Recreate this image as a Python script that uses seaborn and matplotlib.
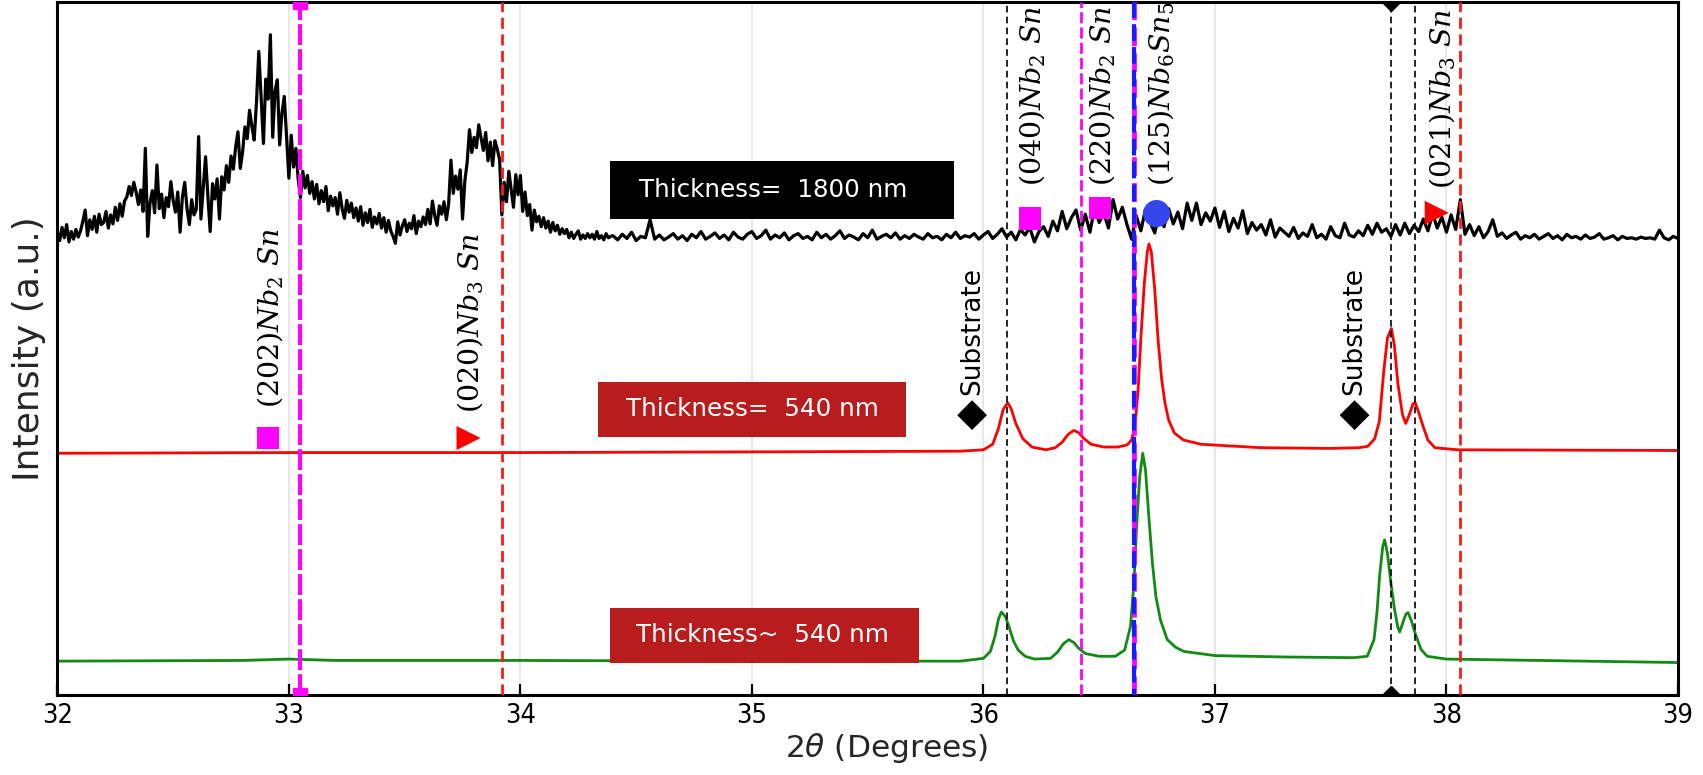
import numpy as np
import pandas as pd
import matplotlib
matplotlib.use("Agg")
import matplotlib.pyplot as plt
import seaborn as sns
from matplotlib.patches import Rectangle

# ---------------- data ----------------
# black trace (1800 nm), stacked intensity, fine scan part 32.00-34.39 (0.01 step)
black_y_fine = [
    66.8, 65.6, 67.5, 66.0, 67.9, 65.4, 66.9, 65.8, 67.2, 66.1,
    67.0, 68.4, 70.0, 66.3, 68.6, 67.2, 69.1, 66.8, 69.4, 67.9,
    68.2, 69.8, 67.4, 69.3, 68.0, 70.4, 68.5, 70.9, 69.1, 71.3,
    71.9, 73.4, 72.1, 74.0, 72.6, 70.8, 72.9, 69.8, 78.9, 66.2,
    71.0, 72.8, 69.6, 76.5, 70.2, 72.3, 68.9, 71.8, 70.5, 74.1,
    71.4, 69.7, 72.6, 66.8, 71.9, 74.0, 70.2, 67.9, 71.5, 69.3,
    70.1, 80.6, 68.7, 73.2, 77.7, 72.0, 66.9, 73.8, 71.6, 74.5,
    68.7, 74.8, 72.9, 76.4, 74.0, 77.8, 75.9, 79.1, 81.3, 76.0,
    78.4, 82.0, 80.3, 84.4, 82.1, 80.1, 85.6, 92.9, 86.2, 79.6,
    88.9, 86.0, 95.3, 80.5, 87.2, 88.8, 79.4, 84.0, 86.4, 80.6,
    74.6, 80.8, 76.2, 78.9, 74.5, 71.8, 75.6, 73.2, 75.0, 72.4,
    74.1, 71.6, 73.7, 70.9, 72.8, 71.2, 73.4, 69.9, 72.0, 70.6,
    71.8, 69.4, 72.5, 70.2, 68.8, 71.4, 69.7, 71.0, 68.9, 70.3,
    68.4, 70.5, 67.8, 69.6, 68.2, 70.1, 67.5, 69.0, 68.0, 69.5,
    67.4, 68.9, 66.8, 68.5, 67.0, 66.2, 65.2, 68.3, 66.4, 67.7,
    68.6, 66.9, 68.1, 67.3, 69.2, 66.6, 68.4, 67.6, 69.0, 67.9,
    70.1, 68.0, 71.3, 69.2, 67.8, 70.6, 69.4, 71.2, 68.6, 70.9,
    77.2, 72.4, 74.9, 73.0, 75.8, 68.7, 74.2, 76.9, 81.6, 78.3,
    80.5, 79.0, 82.3, 80.4, 78.6, 81.2, 77.1, 79.8, 76.4, 80.0,
    78.8, 77.3, 69.3, 74.0, 71.2, 75.6, 73.0, 70.4, 75.1, 72.2,
    75.0, 69.8, 72.6, 69.2, 70.8, 67.1, 70.0, 68.3, 69.1, 67.6,
    68.9, 67.4, 68.4, 66.8, 68.2, 67.0, 67.8, 66.5, 67.3, 66.6,
    67.2, 66.0, 66.8, 65.9, 66.5, 67.0, 65.8, 66.4, 65.9, 66.6,
    66.0, 66.5, 65.8, 66.9, 65.9, 66.3, 65.7, 66.6, 66.0, 66.2,
]
# coarse scan part 34.40-39.00 (0.02 step)
black_y_coarse = [
    66.3, 65.7, 66.5, 65.9, 66.8, 65.6, 66.2, 66.0, 68.6, 65.8,
    66.4, 65.7, 66.1, 66.6, 65.8, 66.3, 65.6, 66.5, 66.0, 66.9,
    65.8, 66.2, 66.7, 65.9, 66.4, 65.7, 66.8, 66.1, 65.8, 66.5,
    66.9, 65.9, 66.3, 67.1, 65.8, 66.4, 66.0, 66.7, 65.7, 66.3,
    66.6, 65.9, 66.2, 65.7, 66.8, 66.0, 66.5, 65.8, 66.3, 67.0,
    65.9, 66.4, 66.1, 65.7, 66.6, 66.0, 67.1, 65.8, 66.2, 66.5,
    66.0, 66.7, 65.8, 66.3, 65.9, 66.5, 66.1, 65.8, 66.6, 66.0,
    66.2, 65.7, 66.5, 66.0, 66.8, 65.9, 66.3, 66.1, 66.6, 65.8,
    66.4, 66.9, 65.9, 66.5, 67.3, 66.1, 66.8, 65.7, 67.2, 66.4,
    67.5, 65.4, 66.9, 67.6, 66.2, 68.4, 67.0, 69.8, 67.3, 68.9,
    70.0, 67.1, 69.4, 66.8, 70.3, 68.2, 69.6, 67.4, 71.5, 68.7,
    70.4, 67.9, 65.8, 69.2, 67.0, 70.1, 68.3, 66.7, 69.5, 67.6,
    70.2, 68.0, 69.7, 67.3, 71.0, 68.5, 71.0, 67.9, 69.6, 68.4,
    70.3, 67.5, 69.8, 66.9, 68.8, 67.4, 69.9, 66.6, 68.2, 67.1,
    67.9, 66.4, 68.6, 66.1, 67.4, 66.8, 66.2, 67.5, 65.9, 66.7,
    66.2, 67.9, 66.0, 66.5, 65.8, 67.6, 66.3, 66.0, 68.1, 66.4,
    66.1, 67.0, 66.3, 67.8, 66.5, 68.1, 66.8, 67.3, 66.2, 67.9,
    66.4, 68.1, 66.6, 67.8, 66.9, 68.7, 67.0, 69.5, 67.4, 69.0,
    66.8, 69.3, 67.2, 71.5, 66.5, 67.9, 66.3, 67.6, 66.0, 66.9,
    68.6, 66.2, 66.7, 65.9, 66.4, 66.8, 65.8, 66.3, 66.0, 66.5,
    65.8, 66.2, 66.6, 65.9, 66.3, 65.7, 66.5, 66.0, 66.2, 65.8,
    66.4, 65.9, 66.1, 66.6, 65.8, 66.0, 66.3, 65.7, 66.2, 65.9,
    66.0, 65.8, 66.1, 65.9, 66.0, 65.8, 67.1, 66.0, 65.7, 66.2,
    65.9,
]

# red trace (540 nm), stacked intensity
red_x = [32.0, 33.0, 34.0, 35.0, 35.9, 36.0, 36.04, 36.065, 36.085, 36.105,
         36.12, 36.14, 36.17, 36.21, 36.27, 36.31, 36.34, 36.365, 36.39, 36.41,
         36.435, 36.465, 36.52, 36.58, 36.62, 36.64, 36.655, 36.668, 36.68, 36.695,
         36.708, 36.715, 36.725, 36.74, 36.755, 36.77, 36.785, 36.80, 36.825, 36.865,
         36.94, 37.2, 37.5, 37.62, 37.66, 37.69, 37.71, 37.73, 37.745, 37.762,
         37.775, 37.79, 37.81, 37.824, 37.84, 37.855, 37.865, 37.88, 37.90, 37.92,
         37.95, 38.05, 39.0]
red_y = [34.9, 35.0, 35.0, 35.1, 35.2, 35.4, 36.2, 38.5, 41.2, 42.2,
         41.3, 39.2, 37.0, 35.8, 35.4, 35.7, 36.5, 37.6, 38.2, 37.9,
         37.0, 36.2, 35.8, 35.8, 36.1, 36.8, 39.0, 44.0, 51.5, 59.5,
         64.0, 65.1, 64.0, 58.5, 51.0, 45.5, 42.0, 39.7, 37.8, 36.8,
         36.2, 35.7, 35.6, 35.7, 35.9, 37.0, 39.5, 47.0, 51.5, 52.9,
         50.5, 45.0, 40.5, 39.2, 40.5, 42.0, 42.2, 40.8, 38.7, 36.8,
         35.7, 35.4, 35.3]

# green trace (~540 nm), stacked intensity
green_x = [32.0, 32.8, 33.0, 33.2, 34.0, 35.0, 35.9, 36.0, 36.03, 36.05,
           36.065, 36.078, 36.095, 36.11, 36.13, 36.15, 36.18, 36.22, 36.29, 36.32,
           36.345, 36.369, 36.39, 36.41, 36.44, 36.5, 36.57, 36.61, 36.635, 36.65,
           36.662, 36.675, 36.688, 36.70, 36.715, 36.73, 36.745, 36.765, 36.794, 36.83,
           36.866, 37.0, 37.3, 37.6, 37.658, 37.687, 37.70, 37.712, 37.725, 37.733,
           37.745, 37.76, 37.775, 37.79, 37.798, 37.812, 37.825, 37.834, 37.848, 37.865,
           37.89, 37.917, 38.0, 39.0]
green_y = [4.9, 5.0, 5.2, 5.0, 5.0, 4.9, 4.9, 5.3, 6.3, 8.5,
           11.0, 12.0, 11.3, 9.9, 7.8, 6.5, 5.6, 5.2, 5.3, 6.2,
           7.4, 8.0, 7.6, 6.8, 6.0, 5.6, 5.6, 6.5, 9.9, 16.0,
           24.5, 31.5, 34.9, 32.5, 25.5, 19.0, 14.2, 10.8, 8.0, 6.9,
           6.3, 5.7, 5.5, 5.4, 5.6, 8.0, 12.0, 17.5, 21.5, 22.4,
           20.5, 16.2, 12.5, 9.8, 9.1, 10.5, 11.7, 11.9, 10.8, 8.9,
           6.6, 5.6, 5.2, 4.7]

# reference peak positions (2theta)
nb2sn_202 = 33.05
nb3sn_020 = 33.92
substrate_1 = 36.10
nb2sn_220 = 36.42
nb6sn5_125 = 36.65
substrate_2 = 37.76
substrate_3 = 37.865
nb3sn_021 = 38.06

# phase markers (x, y)
mag_sq_x = [32.91, 36.20, 36.503]
mag_sq_y = [37.1, 68.8, 70.3]
red_tri_x = [33.776, 37.958]
red_tri_y = [37.1, 69.6]
blue_dot_x = [36.748]
blue_dot_y = [69.5]
sub_x = [35.951, 37.603]
sub_y = [40.4, 40.4]

phase_labels = [r"$(202)Nb_2\ Sn$", r"$(020)Nb_3\ Sn$", r"$(040)Nb_2\ Sn$",
                r"$(220)Nb_2\ Sn$", r"$(125)Nb_6Sn_5$", r"$(021)Nb_3\ Sn$"]
phase_label_x = [32.919, 33.783, 36.21, 36.513, 36.765, 37.982]
phase_label_y = [41.4, 40.7, 73.5, 73.4, 73.4, 73.1]

sample_labels = ["Thickness=  1800 nm", "Thickness=  540 nm", "Thickness~  540 nm"]
xticks = [32, 33, 34, 35, 36, 37, 38, 39]

# ---------------- build frames ----------------
x_fine = np.round(32.0 + 0.01 * np.arange(len(black_y_fine)), 2)
x_coarse = np.round(34.40 + 0.02 * np.arange(len(black_y_coarse)), 2)
black = pd.DataFrame({"x": np.concatenate([x_fine, x_coarse]),
                      "y": black_y_fine + black_y_coarse})
red = pd.DataFrame({"x": red_x, "y": red_y})
green = pd.DataFrame({"x": green_x, "y": green_y})

# ---------------- plot ----------------
sns.set_theme(style="white")
plt.rcParams["font.family"] = ["DejaVu Sans"]

fig = plt.figure(figsize=(17.03, 7.75), dpi=100)
ax = fig.add_axes([0.0337, 0.1031, 0.9516, 0.8941])

for t in xticks[1:-1]:
    ax.axvline(t, color="#e3e3e3", lw=1.2, zorder=0)

sns.lineplot(data=black, x="x", y="y", color="black", lw=2.3, ax=ax,
             sort=False, estimator=None, zorder=2)
sns.lineplot(data=red, x="x", y="y", color="#ff0000", lw=2.0, ax=ax,
             sort=False, estimator=None, zorder=2)
sns.lineplot(data=green, x="x", y="y", color="#138a13", lw=2.0, ax=ax,
             sort=False, estimator=None, zorder=2)

# reference lines
ax.plot([nb2sn_202, nb2sn_202], [0, 100], color="#ff00ff", lw=3.0,
        ls=(0, (5, 1.0)), marker="s", ms=10, zorder=3)
ax.plot([nb3sn_020] * 2, [0, 100], color="#ff1a1a", lw=2.0, ls=(0, (4, 2)), zorder=3)
ax.plot([substrate_1] * 2, [0, 100], color="black", lw=1.2, ls=(0, (4, 2.5)), zorder=3)
ax.plot([nb2sn_220] * 2, [0, 100], color="#ff00ff", lw=2.0, ls=(0, (4, 1.5)), zorder=3)
ax.plot([nb6sn5_125] * 2, [0, 100], color="#ff00ff", lw=3.4, ls=(0, (4, 1.5)), zorder=3)
ax.plot([nb6sn5_125] * 2, [0, 100], color="#1a1aff", lw=3.0, ls=(2.5, (4, 1.5)), zorder=3)
ax.plot([substrate_2] * 2, [0, 100], color="black", lw=1.2, ls=(0, (4, 2.5)),
        marker="D", ms=9, zorder=3)
ax.plot([substrate_3] * 2, [0, 100], color="black", lw=1.2, ls=(0, (4, 2.5)), zorder=3)
ax.plot([nb3sn_021] * 2, [0, 100], color="#ff1a1a", lw=2.0, ls=(0, (4, 2)), zorder=3)

# phase markers
sns.scatterplot(x=mag_sq_x, y=mag_sq_y, marker="s", s=260, color="#ff00ff",
                edgecolor="none", ax=ax, zorder=4)
sns.scatterplot(x=red_tri_x, y=red_tri_y, marker=">", s=300, color="#ff0000",
                edgecolor="none", ax=ax, zorder=4)
sns.scatterplot(x=blue_dot_x, y=blue_dot_y, marker="o", s=380, color="#3545ee",
                edgecolor="none", ax=ax, zorder=4)
sns.scatterplot(x=sub_x, y=sub_y, marker="D", s=230, color="black",
                edgecolor="none", ax=ax, zorder=4)

for lab, lx, ly in zip(phase_labels, phase_label_x, phase_label_y):
    ax.text(lx, ly, lab, rotation=90, ha="center", va="bottom", fontsize=20.5,
            math_fontfamily="dejavuserif", color="black", zorder=5, clip_on=False)
for sx in sub_x:
    ax.text(sx, 43.3, "Substrate", rotation=90, ha="center", va="bottom",
            fontsize=19, color="black", zorder=5)

# sample label boxes (axes fraction layout)
boxes = [((0.341, 0.6865), 0.212, 0.0848, "black", 0.3587, 0.729),
         ((0.3338, 0.3731), 0.1897, 0.0783, "#b81c1c", 0.3506, 0.4122),
         ((0.3412, 0.0470), 0.1903, 0.0784, "#b81c1c", 0.3573, 0.0862)]
for (xy, w, h, fc, tx, ty), lab in zip(boxes, sample_labels):
    ax.add_patch(Rectangle(xy, w, h, transform=ax.transAxes, facecolor=fc,
                           edgecolor="none", zorder=6))
    ax.text(tx, ty, lab, transform=ax.transAxes, ha="left", va="center",
            color="white", fontsize=17.7, zorder=7)

ax.set_xlim(32, 39)
ax.set_ylim(0, 100)
ax.set_xticks(xticks)
ax.set_yticks([])
ax.tick_params(axis="x", direction="in", length=8, width=1.6, bottom=True,
               top=False, labelsize=19.5, pad=6, colors="black")
for lbl in ax.get_xticklabels():
    lbl.set_fontstretch("condensed")
for sp in ax.spines.values():
    sp.set_color("black")
    sp.set_linewidth(2.2)

ax.set_xlabel(r"2$\theta$ (Degrees)", fontsize=22.5, labelpad=1)
ax.xaxis.label.set_x(0.512)
ax.set_ylabel("Intensity (a.u.)", fontsize=26, labelpad=8)

fig.savefig("out.png", dpi=100)
